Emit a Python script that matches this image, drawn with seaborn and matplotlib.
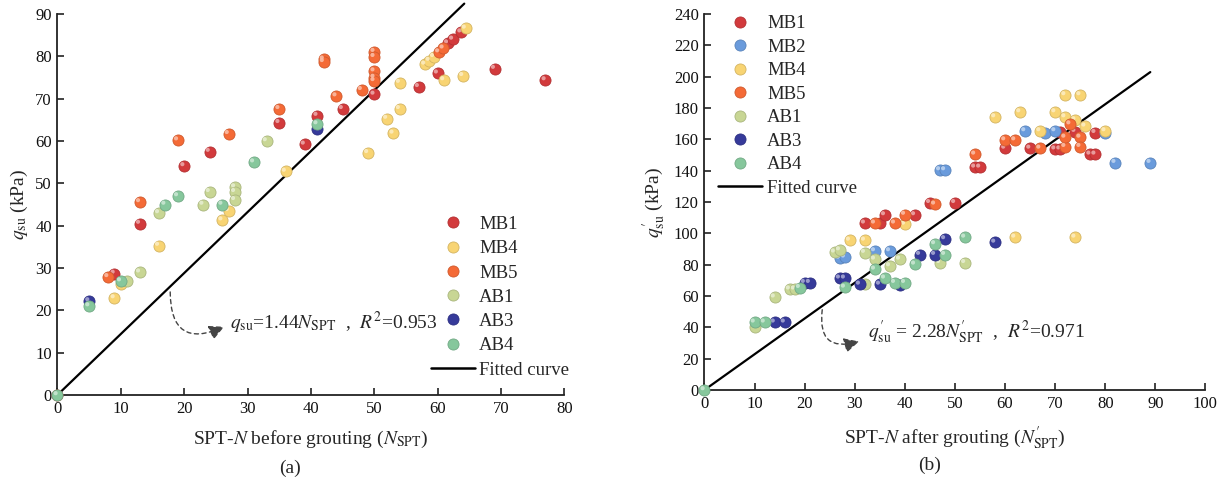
import numpy as np
import pandas as pd
import matplotlib
matplotlib.use("Agg")
import matplotlib.pyplot as plt
import matplotlib.transforms as mtransforms
from matplotlib.lines import Line2D
from matplotlib.patches import FancyArrowPatch
import seaborn as sns

# ---------------- data : panel (a) ----------------
a_MB1_x = [0, 9, 13, 20, 24, 35, 39, 41, 45, 50, 57, 60, 61.6, 62.4, 63.7, 69, 77]
a_MB1_y = [0, 28.7, 40.5, 54.1, 57.5, 64.3, 59.2, 66.0, 67.6, 71.0, 72.8, 76.0, 83.1, 84.0, 85.7, 77.1, 74.4]
a_MB4_x = [9, 10, 16, 26, 27, 36, 49, 52, 53, 54, 54, 58, 58.7, 59.4, 61, 64, 64.4]
a_MB4_y = [22.9, 26.2, 35.3, 41.3, 43.5, 52.8, 57.2, 65.3, 61.8, 67.6, 73.8, 78.1, 79.0, 79.9, 74.4, 75.4, 86.6]
a_MB5_x = [8, 13, 19, 27, 35, 42, 42, 44, 48, 50, 50, 50, 50, 50, 60.2, 60.9]
a_MB5_y = [27.9, 45.6, 60.2, 61.7, 67.6, 79.3, 78.7, 70.6, 72.1, 81.1, 79.9, 76.5, 75.0, 74.2, 81.0, 81.9]
a_AB1_x = [11, 13, 16, 23, 24, 28, 28, 28, 33]
a_AB1_y = [26.9, 29.0, 43.0, 45.0, 48.0, 49.1, 48.0, 46.1, 60.0]
a_AB3_x = [5, 41]
a_AB3_y = [22.2, 62.9]
a_AB4_x = [0, 5, 10, 17, 19, 26, 31, 41]
a_AB4_y = [0, 21.0, 26.9, 45.0, 47.0, 45.0, 55.0, 64.0]

# ---------------- data : panel (b) ----------------
b_MB1_x = [32, 35, 36, 42, 45, 50, 54, 55, 60, 65, 70, 71, 71, 74, 77, 78, 78]
b_MB1_y = [106.4, 106.4, 111.7, 111.7, 119.5, 119.5, 142.1, 142.1, 154.2, 154.2, 153.7, 153.7, 164.9, 164.9, 150.4, 150.4, 164.2]
b_MB2_x = [27, 28, 34, 37, 47, 48, 64, 68, 70, 80, 82, 89]
b_MB2_y = [84.0, 84.7, 88.7, 88.7, 140.4, 140.4, 165.3, 164.2, 165.3, 164.0, 145.1, 145.1]
b_MB4_x = [29, 32, 40, 58, 62, 63, 67, 70, 72, 72, 74, 74, 75, 76, 80]
b_MB4_y = [95.5, 95.5, 105.7, 174.2, 97.4, 177.4, 165.3, 177.4, 188.3, 174.2, 97.4, 172.3, 188.3, 168.3, 165.3]
b_MB5_x = [34, 38, 40, 46, 54, 60, 62, 67, 72, 72, 73, 75, 75]
b_MB5_y = [106.4, 106.4, 112.0, 118.5, 150.4, 159.5, 159.5, 154.2, 155.3, 161.2, 169.7, 161.2, 155.3]
b_AB1_x = [10, 14, 17, 18, 26, 27, 32, 32, 34, 37, 39, 47, 52]
b_AB1_y = [40.4, 59.2, 64.3, 64.3, 87.9, 89.3, 87.7, 67.4, 83.4, 79.1, 83.4, 81.2, 81.2]
b_AB3_x = [14, 16, 20, 21, 27, 28, 31, 35, 39, 43, 46, 48, 58]
b_AB3_y = [43.2, 43.2, 68.5, 68.5, 71.3, 71.3, 67.4, 67.4, 66.8, 86.4, 86.4, 96.4, 94.2]
b_AB4_x = [0, 10, 12, 19, 28, 34, 36, 38, 40, 42, 46, 48, 52]
b_AB4_y = [0, 43.2, 43.2, 65.3, 65.5, 77.0, 71.3, 68.5, 68.5, 80.2, 93.2, 86.4, 97.4]

# fitted lines
slope_a, fit_x_a = 1.44, [0, 64.2]
slope_b, fit_x_b = 2.28, [0, 89]

# ticks
xticks_a = list(range(0, 81, 10)); yticks_a = list(range(0, 91, 10))
xticks_b = list(range(0, 101, 10)); yticks_b = list(range(0, 241, 20))

colors = {
    "MB1": "#d23a3c",
    "MB2": "#6a9bdc",
    "MB4": "#f8d473",
    "MB5": "#f46a36",
    "AB1": "#c8d694",
    "AB3": "#363a9a",
    "AB4": "#86c79c",
}

sns.set_theme(style="white")
plt.rcParams["font.family"] = ["Liberation Serif", "DejaVu Serif"]
plt.rcParams["mathtext.fontset"] = "stix"

W, H = 1225, 491
fig = plt.figure(figsize=(W / 100, H / 100), dpi=100)
fig.patch.set_facecolor("white")

ax_a = fig.add_axes([57.4 / W, (H - 395) / H, 507 / W, 381 / H])
ax_b = fig.add_axes([704.4 / W, (H - 390) / H, 501 / W, 376 / H])


def lighten(c, f):
    r, g, b = matplotlib.colors.to_rgb(c)
    return (r + (1 - r) * f, g + (1 - g) * f, b + (1 - b) * f)


def darken(c, f):
    r, g, b = matplotlib.colors.to_rgb(c)
    return (r * (1 - f), g * (1 - f), b * (1 - f))


def balls(ax, x, y, name, z):
    c = colors[name]
    df = pd.DataFrame({"x": x, "y": y})
    sns.scatterplot(data=df, x="x", y="y", ax=ax, color=c, s=64,
                    edgecolor=darken(c, 0.15), linewidth=0.6, zorder=z,
                    clip_on=False, legend=False)
    off = mtransforms.offset_copy(ax.transData, fig=fig, x=-1.3, y=1.3, units="points")
    sns.scatterplot(data=df, x="x", y="y", ax=ax, color=lighten(c, 0.55), s=9,
                    edgecolor="none", linewidth=0, zorder=z + 0.5, alpha=0.9,
                    transform=off, clip_on=False, legend=False)


def style(ax, xlim, ylim, xt, yt):
    ax.set_xlim(*xlim)
    ax.set_ylim(*ylim)
    ax.set_xticks(xt)
    ax.set_yticks(yt)
    for s in ["top", "right"]:
        ax.spines[s].set_visible(False)
    for s in ["left", "bottom"]:
        ax.spines[s].set_color("#222222")
        ax.spines[s].set_linewidth(1.3)
    ax.tick_params(direction="in", length=5, width=1.2, colors="#222222",
                   labelsize=12, pad=4, bottom=True, left=True)
    for lab in ax.get_xticklabels() + ax.get_yticklabels():
        lab.set_color("#111111")
    ax.set_facecolor("white")
    ax.grid(False)


def legend(ax, names, anchor, spacing, fs=13.5):
    handles = []
    for n in names:
        handles.append(Line2D([], [], linestyle="none", marker="o", markersize=8,
                              markerfacecolor=colors[n], markeredgecolor=darken(colors[n], 0.15),
                              markeredgewidth=0.6, label=n))
    handles.append(Line2D([], [], color="black", linewidth=1.8, label="Fitted curve"))
    ax.legend(handles=handles, loc="upper left", bbox_to_anchor=anchor, frameon=False,
              fontsize=fs, borderpad=0, borderaxespad=0, handlelength=2.35,
              handletextpad=0.25, labelspacing=spacing, handleheight=0.7)


# ---------- panel (a) ----------
groups_a = [("MB1", a_MB1_x, a_MB1_y), ("MB4", a_MB4_x, a_MB4_y), ("MB5", a_MB5_x, a_MB5_y),
            ("AB1", a_AB1_x, a_AB1_y), ("AB3", a_AB3_x, a_AB3_y), ("AB4", a_AB4_x, a_AB4_y)]
fx = np.array(fit_x_a)
sns.lineplot(x=fx, y=slope_a * fx, ax=ax_a, color="black", linewidth=1.6, zorder=2,
             clip_on=False)
for i, (n, x, y) in enumerate(groups_a):
    balls(ax_a, x, y, n, 3 + i)
style(ax_a, (0, 80), (0, 90), xticks_a, yticks_a)
ax_a.set_xlabel(r"SPT-$N$ before grouting ($N_{\mathrm{SPT}}$)", fontsize=14, labelpad=9)
ax_a.set_ylabel(r"$q_{\mathrm{su}}$ (kPa)", fontsize=14, labelpad=4)
legend(ax_a, [g[0] for g in groups_a], (0.736, 0.47), 0.38)
ax_a.text(27.3, 17.0, r"$q_{\mathrm{su}}$=1.44$N_{\mathrm{SPT}}$  ,  $R^2$=0.953",
          fontsize=14, va="center", ha="left")
arr = FancyArrowPatch((17.8, 25.0), (26.7, 16.4), connectionstyle="arc3,rad=0.8",
                      arrowstyle="-|>,head_length=6,head_width=3", linestyle=(0, (3, 2.5)),
                      color="#444444", linewidth=1.0, mutation_scale=1.5, zorder=10)
ax_a.add_patch(arr)
fig.text(290 / W, 1 - 468 / H, "(a)", fontsize=14, ha="center", va="center")

# ---------- panel (b) ----------
groups_b = [("MB1", b_MB1_x, b_MB1_y), ("MB2", b_MB2_x, b_MB2_y), ("MB4", b_MB4_x, b_MB4_y),
            ("MB5", b_MB5_x, b_MB5_y), ("AB1", b_AB1_x, b_AB1_y), ("AB3", b_AB3_x, b_AB3_y),
            ("AB4", b_AB4_x, b_AB4_y)]
fx = np.array(fit_x_b)
sns.lineplot(x=fx, y=slope_b * fx, ax=ax_b, color="black", linewidth=1.6, zorder=2,
             clip_on=False)
for i, (n, x, y) in enumerate(groups_b):
    balls(ax_b, x, y, n, 3 + i)
style(ax_b, (0, 100), (0, 240), xticks_b, yticks_b)
ax_b.set_xlabel(r"SPT-$N$ after grouting ($N^{\prime}_{\mathrm{SPT}}$)", fontsize=14, labelpad=9)
ax_b.set_ylabel(r"$q^{\prime}_{\mathrm{su}}$ (kPa)", fontsize=14, labelpad=4)
legend(ax_b, [g[0] for g in groups_b], (0.028, 0.997), 0.34)
ax_b.text(32.6, 37.0, r"$q^{\prime}_{\mathrm{su}}$ = 2.28$N^{\prime}_{\mathrm{SPT}}$  ,  $R^2$=0.971",
          fontsize=14, va="center", ha="left")
arr = FancyArrowPatch((23.6, 53.0), (31.4, 31.5), connectionstyle="arc3,rad=0.8",
                      arrowstyle="-|>,head_length=6,head_width=3", linestyle=(0, (3, 2.5)),
                      color="#444444", linewidth=1.0, mutation_scale=1.5, zorder=10)
ax_b.add_patch(arr)
fig.text(930 / W, 1 - 465 / H, "(b)", fontsize=14, ha="center", va="center")

fig.savefig("out.png", dpi=100, facecolor="white")
